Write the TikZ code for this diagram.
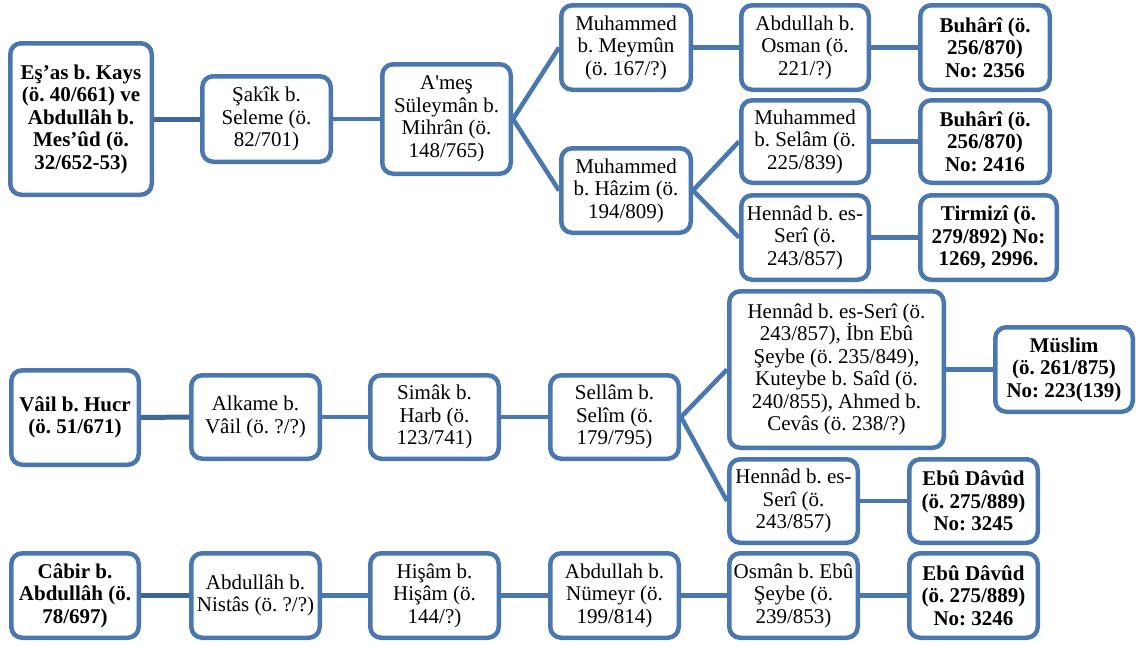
\documentclass[tikz,border=0pt]{standalone}
\usepackage{fontspec}
\newfontfamily\tnr{Liberation Serif}
\usetikzlibrary{backgrounds}
\frenchspacing
\definecolor{bblue}{HTML}{4A77B0}
\definecolor{dblue}{HTML}{3F6699}
\tikzset{
  box/.style={draw=bblue, line width=4.5pt, rounded corners=11pt, fill=white,
    align=center, inner sep=0pt, font=\tnr\frenchspacing\fontsize{21}{22.5}\selectfont},
  bbox/.style={box, font=\tnr\frenchspacing\bfseries\fontsize{21}{22.5}\selectfont},
  sz/.style 2 args={minimum width=#1pt, minimum height=#2pt},
  link/.style={draw=bblue, line width=4.5pt},
  dlink/.style={draw=dblue, line width=5pt}
}
\begin{document}
\begin{tikzpicture}[x=1pt,y=-1pt]
\useasboundingbox (0,0) rectangle (1136,646);
% top group
\node[bbox, sz={141.5}{151.5}] (eas) at (81,119) {Eş’as b. Kays\\(ö. 40/661) ve\\Abdullâh b.\\Mes’ûd (ö.\\32/652-53)};
\node[box, sz={128.5}{85.5}] (sakik) at (266.5,119) {Şakîk b.\\Seleme (ö.\\82/701)};
\node[box, sz={128.5}{109.5}] (ames) at (446.5,119) {A'meş\\Süleymân b.\\Mihrân (ö.\\148/765)};
\node[box, sz={129.5}{84.5}] (meymun) at (626,47.5) {Muhammed\\b. Meymûn\\(ö. 167/?)};
\node[box, sz={129.5}{84.5}] (hazim) at (626,190.5) {Muhammed\\b. Hâzim (ö.\\194/809)};
\node[box, sz={127.5}{84.5}] (osman) at (805,47.5) {Abdullah b.\\Osman (ö.\\221/?)};
\node[bbox, sz={129.5}{84.5}] (buhari1) at (985,47.5) {Buhârî (ö.\\256/870)\\No: 2356};
\node[box, sz={127.5}{82.5}] (selam) at (805,141.5) {Muhammed\\b. Selâm (ö.\\225/839)};
\node[bbox, sz={129.5}{82.5}] (buhari2) at (985,141.5) {Buhârî (ö.\\256/870)\\No: 2416};
\node[box, sz={127.5}{84.5}] (hennad1) at (805,237.5) {Hennâd b. es-\\Serî (ö.\\243/857)};
\node[bbox, sz={136.5}{84.5}] (tirmizi) at (988.5,237.5) {Tirmizî (ö.\\279/892) No:\\1269, 2996.};
% middle group
\node[bbox, sz={127.5}{94.5}] (vail) at (75,417.5) {Vâil b. Hucr\\(ö. 51/671)};
\node[box, sz={128.5}{83.5}] (alkame) at (255.5,417) {Alkame b.\\Vâil (ö. ?/?)};
\node[box, sz={128.5}{83.5}] (simak) at (434.5,417) {Simâk b.\\Harb (ö.\\123/741)};
\node[box, sz={128.5}{83.5}] (sellam) at (614.5,417) {Sellâm b.\\Selîm (ö.\\179/795)};
\node[box, sz={214.5}{156.5}] (bighennad) at (836.5,369.5) {Hennâd b. es-Serî (ö.\\243/857), İbn Ebû\\Şeybe (ö. 235/849),\\Kuteybe b. Saîd (ö.\\240/855), Ahmed b.\\Cevâs (ö. 238/?)};
\node[bbox, sz={137.5}{84.5}] (muslim) at (1064,369.5) {Müslim\\(ö. 261/875)\\No: 223(139)};
\node[box, sz={128.5}{83.5}] (hennad2) at (793.5,501) {Hennâd b. es-\\Serî (ö.\\243/857)};
\node[bbox, sz={128.5}{83.5}] (ebudavud1) at (973.5,501) {Ebû Dâvûd\\(ö. 275/889)\\No: 3245};
% bottom group
\node[bbox, sz={127.5}{84.5}] (cabir) at (75,595.5) {Câbir b.\\Abdullâh (ö.\\78/697)};
\node[box, sz={128.5}{84.5}] (nistas) at (255.5,595.5) {Abdullâh b.\\Nistâs (ö. ?/?)};
\node[box, sz={128.5}{84.5}] (hisam) at (434.5,595.5) {Hişâm b.\\Hişâm (ö.\\144/?)};
\node[box, sz={128.5}{84.5}] (numeyr) at (614.5,595.5) {Abdullah b.\\Nümeyr (ö.\\199/814)};
\node[box, sz={128.5}{84.5}] (osmanb) at (793.5,595.5) {Osmân b. Ebû\\Şeybe (ö.\\239/853)};
\node[bbox, sz={128.5}{84.5}] (ebudavud2) at (973.5,595.5) {Ebû Dâvûd\\(ö. 275/889)\\No: 3246};
\begin{scope}[on background layer]
\draw[dlink] (eas.east) -- (sakik.west);
\draw[link] (sakik.east) -- (ames.west);
\draw[link] (ames.east) -- (meymun.west);
\draw[link] (ames.east) -- (hazim.west);
\draw[link] (meymun.east) -- (osman.west);
\draw[link] (osman.east) -- (buhari1.west);
\draw[link] (hazim.east) -- (selam.west);
\draw[link] (hazim.east) -- (hennad1.west);
\draw[link] (selam.east) -- (buhari2.west);
\draw[link] (hennad1.east) -- (tirmizi.west);
\draw[dlink] (vail.east) -- (alkame.west);
\draw[link] (alkame.east) -- (simak.west);
\draw[link] (simak.east) -- (sellam.west);
\draw[link] (sellam.east) -- (bighennad.west);
\draw[link] (sellam.east) -- (hennad2.west);
\draw[link] (bighennad.east) -- (muslim.west);
\draw[link] (hennad2.east) -- (ebudavud1.west);
\draw[dlink] (cabir.east) -- (nistas.west);
\draw[link] (nistas.east) -- (hisam.west);
\draw[link] (hisam.east) -- (numeyr.west);
\draw[link] (numeyr.east) -- (osmanb.west);
\draw[link] (osmanb.east) -- (ebudavud2.west);
\end{scope}
\end{tikzpicture}
\end{document}
